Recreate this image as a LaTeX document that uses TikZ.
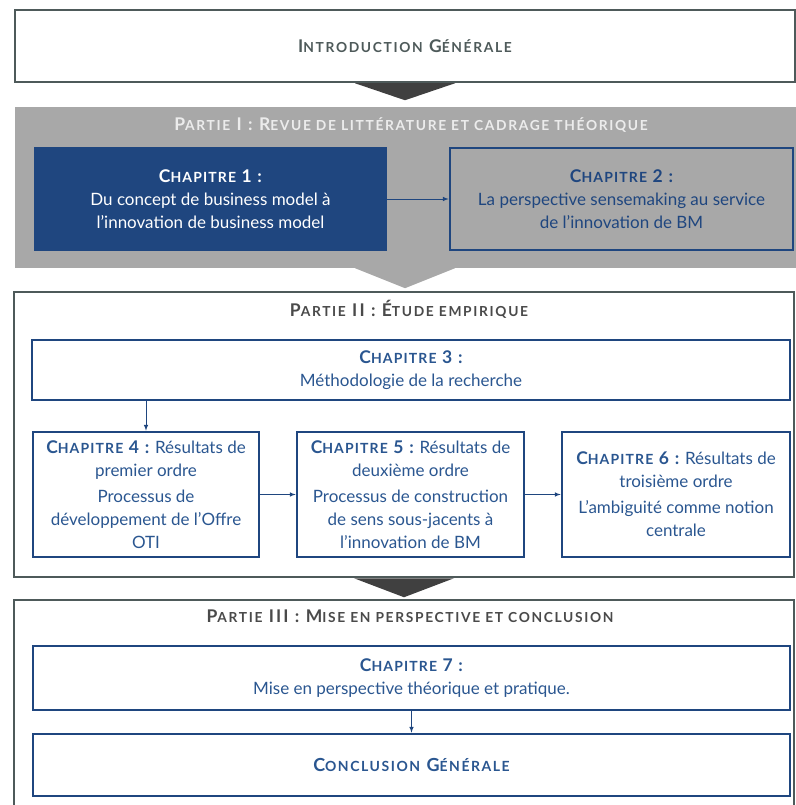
\documentclass[tikz,border=0pt]{standalone}
\usepackage{fontspec}
\setmainfont{Lato}
\usetikzlibrary{positioning}

\definecolor{bleufonce}{HTML}{1F467F}
\definecolor{bleutexte}{HTML}{2A5690}
\definecolor{grisbande}{HTML}{A8A8A8}
\definecolor{griscadre}{HTML}{4E5A5A}
\definecolor{gristitre}{HTML}{4A4A4A}
\definecolor{grisclair}{HTML}{ECECEC}
\definecolor{grisfleche}{HTML}{404040}

% petites capitales faites main
\newcommand{\pcap}[1]{{\fontsize{14}{15}\selectfont #1}}
\newcommand{\pcapt}[1]{{\fontsize{13.8}{15}\selectfont #1}}
\newcommand{\chap}[1]{{\bfseries\addfontfeatures{LetterSpace=8}\fontsize{17.5}{23}\selectfont C\pcap{HAPITRE} #1 :}}

\tikzset{
  cadre/.style={draw=griscadre, line width=2.5pt, inner sep=0pt},
  chapbox/.style={draw=bleufonce, line width=2.6pt, text=bleutexte, align=center,
    font=\fontsize{17}{23}\selectfont, inner sep=0pt},
  titre/.style={font=\bfseries\addfontfeatures{LetterSpace=12}\fontsize{17.5}{18}\selectfont, text=gristitre},
  lien/.style={bleufonce, line width=1pt, -latex},
  pointe/.style={fill=grisfleche},
}

\begin{document}
\begin{tikzpicture}[x=1pt, y=-1pt]
  \useasboundingbox (0,0) rectangle (795,805);

  % introduction
  \node[cadre, minimum width=780pt, minimum height=72pt, titre, text=griscadre] (intro) at (405,46)
    {I\pcapt{NTRODUCTION} G\pcapt{ÉNÉRALE}};
  \fill[pointe] ([xshift=-50pt]intro.south) -- ([xshift=50pt]intro.south)
    -- ([yshift=-17pt]intro.south) -- cycle;

  % partie I
  \node[fill=grisbande, minimum width=781pt, minimum height=161pt, inner sep=0pt] (p1) at (405,187.5) {};
  \fill[grisbande] ([xshift=-50pt]p1.south) -- ([xshift=50pt]p1.south)
    -- ([yshift=-20pt]p1.south) -- cycle;
  \node[titre, text=grisclair] (t1) at (411,125)
    {P\pcapt{ARTIE} I : R\pcapt{EVUE DE LITTÉRATURE ET CADRAGE THÉORIQUE}};
  \node[chapbox, fill=bleufonce, text=white, minimum width=351pt, minimum height=102pt] (ch1) at (210.5,199)
    {\chap{1}\\ Du concept de business model à\\ l'innovation de business model};
  \node[chapbox, fill=grisbande, text=bleufonce, minimum width=343pt, minimum height=102pt] (ch2) at (621.5,199)
    {\chap{2}\\ La perspective sensemaking au service\\ de l'innovation de BM};
  \draw[lien] (ch1) -- (ch2);

  % partie II
  \node[cadre, minimum width=780pt, minimum height=285pt] (p2) at (404,434.5) {};
  \node[titre] (t2) at (409,309) {P\pcapt{ARTIE} II : É\pcapt{TUDE EMPIRIQUE}};
  \node[chapbox, minimum width=758pt, minimum height=60pt] (ch3) at (411,370)
    {\chap{3}\\ Méthodologie de la recherche};
  \node[chapbox, minimum width=226pt, minimum height=125pt] (ch4) at (146,494.5)
    {\chap{4} Résultats de\\ premier ordre\\[3pt] Processus de\\
     développement de l'Offre\\ OTI};
  \node[chapbox, minimum width=227pt, minimum height=125pt] (ch5) at (410.5,494.5)
    {\chap{5} Résultats de\\ deuxième ordre\\[3pt] Processus de construction\\
     de sens sous-jacents à\\ l'innovation de BM};
  \node[chapbox, minimum width=228pt, minimum height=125pt] (ch6) at (676,494.5)
    {\chap{6} Résultats de\\ troisième ordre\\[3pt] L'ambiguité comme notion\\ centrale};
  \draw[lien] (ch4.north |- ch3.south) -- (ch4.north);
  \draw[lien] (ch4) -- (ch5);
  \draw[lien] (ch5) -- (ch6);
  \fill[pointe] ([xshift=-50pt]p2.south) -- ([xshift=50pt]p2.south)
    -- ([yshift=-19pt]p2.south) -- cycle;

  % partie III
  \node[cadre, minimum width=780pt, minimum height=215pt] (p3) at (404,707.5) {};
  \node[titre] (t3) at (410,616) {P\pcapt{ARTIE} III : M\pcapt{ISE EN PERSPECTIVE ET CONCLUSION}};
  \node[chapbox, minimum width=757pt, minimum height=64pt] (ch7) at (411.5,678)
    {\chap{7}\\ Mise en perspective théorique et pratique.};
  \node[chapbox, minimum width=757pt, minimum height=62pt,
    font=\bfseries\addfontfeatures{LetterSpace=11}\fontsize{18}{18}\selectfont] (concl) at (411.5,765)
    {C\pcap{ONCLUSION} G\pcap{ÉNÉRALE}};
  \draw[lien] (ch7) -- (concl);
\end{tikzpicture}
\end{document}
